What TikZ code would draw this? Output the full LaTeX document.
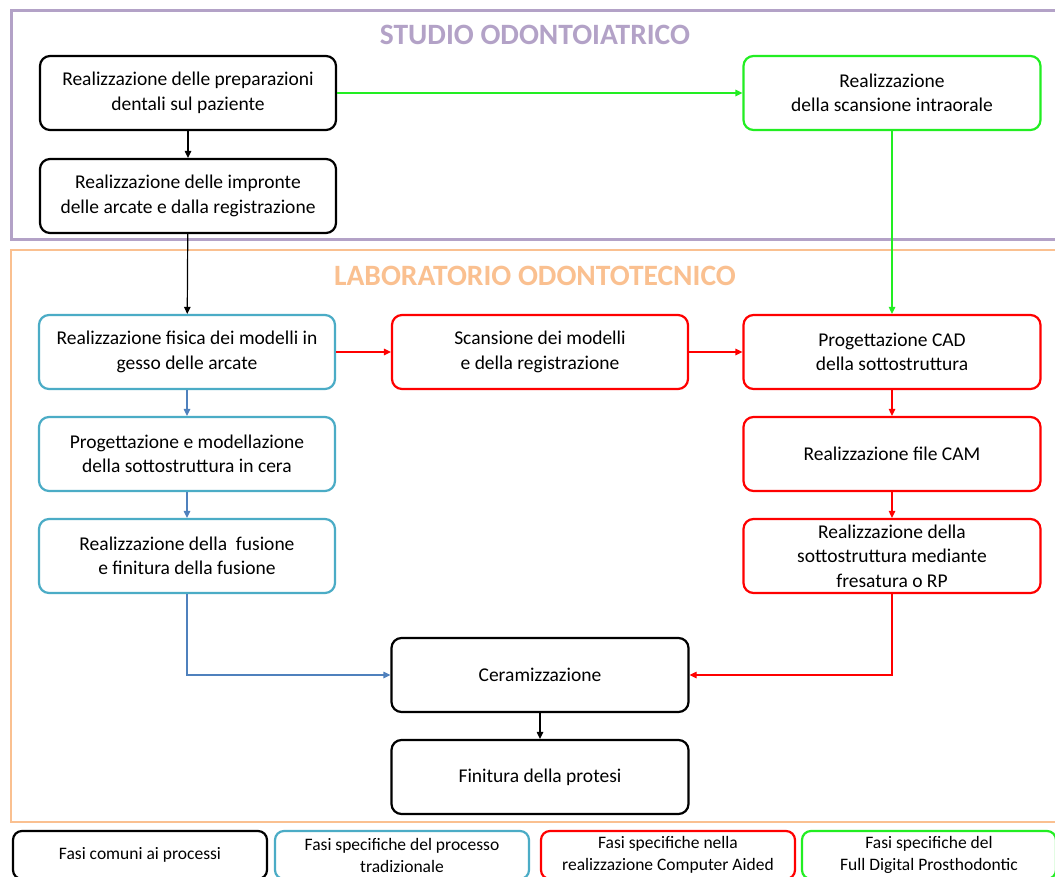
\documentclass[tikz,border=0pt]{standalone}
\usepackage{fontspec}
\setmainfont{Carlito}
\usetikzlibrary{arrows.meta}
\definecolor{purpframe}{HTML}{B3A2C7}
\definecolor{orframe}{HTML}{FAC090}
\definecolor{tradblue}{HTML}{4BACC6}
\definecolor{arrblue}{HTML}{4F81BD}
\definecolor{cared}{HTML}{FF0000}
\definecolor{fdgreen}{HTML}{22EE22}
\tikzset{
  box/.style={draw, line width=2.2pt, rounded corners=10pt, minimum width=296pt, minimum height=74pt,
    align=center, inner sep=0pt, font=\fontsize{19.5}{24.5}\selectfont, text=black},
  commonbox/.style={box, draw=black},
  tradbox/.style={box, draw=tradblue},
  cabox/.style={box, draw=cared},
  fdbox/.style={box, draw=fdgreen},
  legbox/.style={draw, line width=2.2pt, rounded corners=9pt, minimum width=254pt, minimum height=48pt,
    align=center, inner sep=0pt, font=\fontsize{17.5}{22}\selectfont, text=black},
  conn/.style={line width=1.2pt, -{Triangle[length=7pt,width=6.5pt]}},
  frametitle/.style={font=\fontsize{29.5}{32}\selectfont\bfseries, inner sep=0pt}
}
\begin{document}
\begin{tikzpicture}[x=1pt,y=-1pt]
\useasboundingbox (0,0) rectangle (1055,877);
\fill[white] (0,0) rectangle (1055,877);
% frames
\draw[purpframe, line width=3pt] (11,11) rectangle (1070,240);
\node[frametitle, text=purpframe] (t1) at (535,35) {STUDIO ODONTOIATRICO};
\draw[orframe, line width=2.8pt] (11,250) rectangle (1070,822);
\node[frametitle, text=orframe] (t2) at (535,276) {LABORATORIO ODONTOTECNICO};
% nodes
\node[commonbox] (A) at (188,93) {Realizzazione delle preparazioni\\dentali sul paziente};
\node[commonbox] (B) at (188,196) {Realizzazione delle impronte\\delle arcate e dalla registrazione};
\node[fdbox, minimum width=297pt] (G) at (892,93) {Realizzazione\\della scansione intraorale};
\node[tradbox] (C) at (187,352) {Realizzazione fisica dei modelli in\\gesso delle arcate};
\node[cabox] (D) at (540,352) {Scansione dei modelli\\e della registrazione};
\node[cabox, minimum width=297pt] (E) at (892,352) {Progettazione CAD\\della sottostruttura};
\node[tradbox] (F) at (187,454) {Progettazione e modellazione\\della sottostruttura in cera};
\node[cabox, minimum width=297pt] (H) at (892,454) {Realizzazione file CAM};
\node[tradbox] (I) at (187,556) {Realizzazione della \ fusione\\e finitura della fusione};
\node[cabox, minimum width=297pt] (J) at (892,556) {Realizzazione della\\sottostruttura mediante\\fresatura o RP};
\node[commonbox, minimum width=297pt] (K) at (540,675) {Ceramizzazione};
\node[commonbox, minimum width=297pt] (L) at (540,777) {Finitura della protesi};
% legend
\node[legbox, draw=black] (l1) at (140,855) {Fasi comuni ai processi};
\node[legbox, draw=tradblue] (l2) at (402,855) {Fasi specifiche del processo\\tradizionale};
\node[legbox, draw=cared] (l3) at (668,855) {Fasi specifiche nella\\realizzazione Computer Aided};
\node[legbox, draw=fdgreen] (l4) at (929,855) {Fasi specifiche del\\Full Digital Prosthodontic};
% connectors
\draw[conn, black] (A) -- (B);
\draw[conn, black] (B) -- (C);
\draw[conn, fdgreen] (A.east) -- (G.west);
\draw[conn, fdgreen] (G) -- (E);
\draw[conn, cared] (C) -- (D);
\draw[conn, cared] (D) -- (E);
\draw[conn, arrblue] (C) -- (F);
\draw[conn, arrblue] (F) -- (I);
\draw[conn, cared] (E) -- (H);
\draw[conn, cared] (H) -- (J);
\draw[conn, arrblue] (I.south) |- (K.west);
\draw[conn, cared] (J.south) |- (K.east);
\draw[conn, black] (K) -- (L);
\end{tikzpicture}
\end{document}
